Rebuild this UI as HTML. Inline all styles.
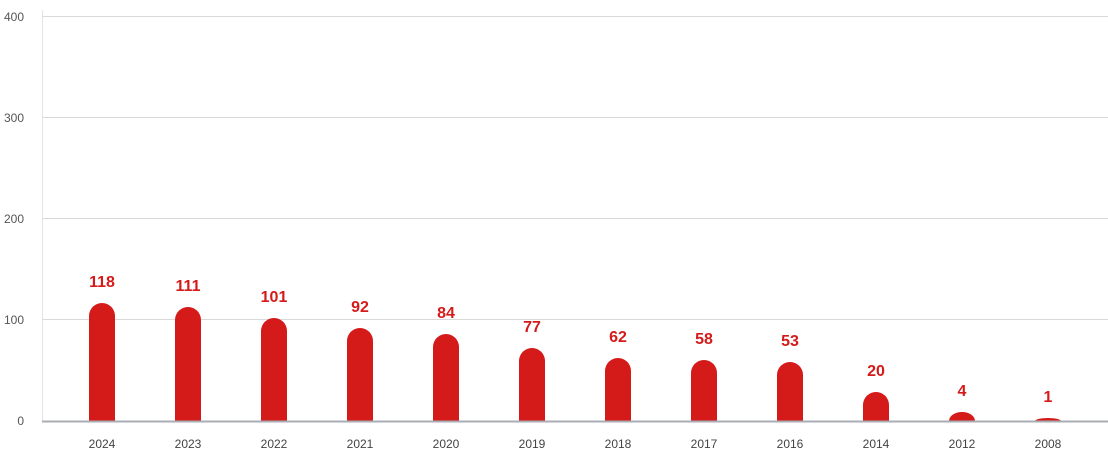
<!DOCTYPE html>
<html><head><style>
body{margin:0;background:#fff;}
svg{display:block;font-family:"Liberation Sans",sans-serif;}
</style></head><body>
<svg width="1108" height="451" xmlns="http://www.w3.org/2000/svg">
<g stroke="#d9d9d9" stroke-width="1">
<line x1="42" y1="16.5" x2="1108" y2="16.5"/>
<line x1="42" y1="117.5" x2="1108" y2="117.5"/>
<line x1="42" y1="218.5" x2="1108" y2="218.5"/>
<line x1="42" y1="319.5" x2="1108" y2="319.5"/>
<line x1="42.5" y1="10" x2="42.5" y2="421" stroke="#e3e3e3"/>
</g>
<g font-size="12" fill="#555" text-anchor="end">
<text x="24" y="21">400</text>
<text x="24" y="122">300</text>
<text x="24" y="223">200</text>
<text x="24" y="324">100</text>
<text x="24" y="425">0</text>
</g>
<g fill="#d51a1a" id="bars"></g>
<line x1="42" y1="421.5" x2="1108" y2="421.5" stroke="#a9adb3" stroke-width="2"/>
<g id="labels" font-size="16" font-weight="bold" fill="#d51a1a" text-anchor="middle"></g>
<g id="years" font-size="12" fill="#444" text-anchor="middle"></g>
<script>
var d=[["2024",118,303],["2023",111,307],["2022",101,318],["2021",92,328],["2020",84,334],["2019",77,348],["2018",62,358],["2017",58,360],["2016",53,362],["2014",20,392],["2012",4,412],["2008",1,418]];
var ns="http://www.w3.org/2000/svg",b=document.getElementById("bars"),l=document.getElementById("labels"),y=document.getElementById("years");
d.forEach(function(e,i){var cx=102+86*i,top=e[2],h=421-top,r=Math.min(13,h);
var p=document.createElementNS(ns,"path");
p.setAttribute("d","M"+(cx-13)+" 421 V"+(top+r)+" A13 "+r+" 0 0 1 "+cx+" "+top+" A13 "+r+" 0 0 1 "+(cx+13)+" "+(top+r)+" V421 Z");
b.appendChild(p);
var t=document.createElementNS(ns,"text");t.setAttribute("x",cx);t.setAttribute("y",top-16);t.textContent=e[1];l.appendChild(t);
var u=document.createElementNS(ns,"text");u.setAttribute("x",cx);u.setAttribute("y",448);u.textContent=e[0];y.appendChild(u);});
</script>
</svg>
</body></html>
